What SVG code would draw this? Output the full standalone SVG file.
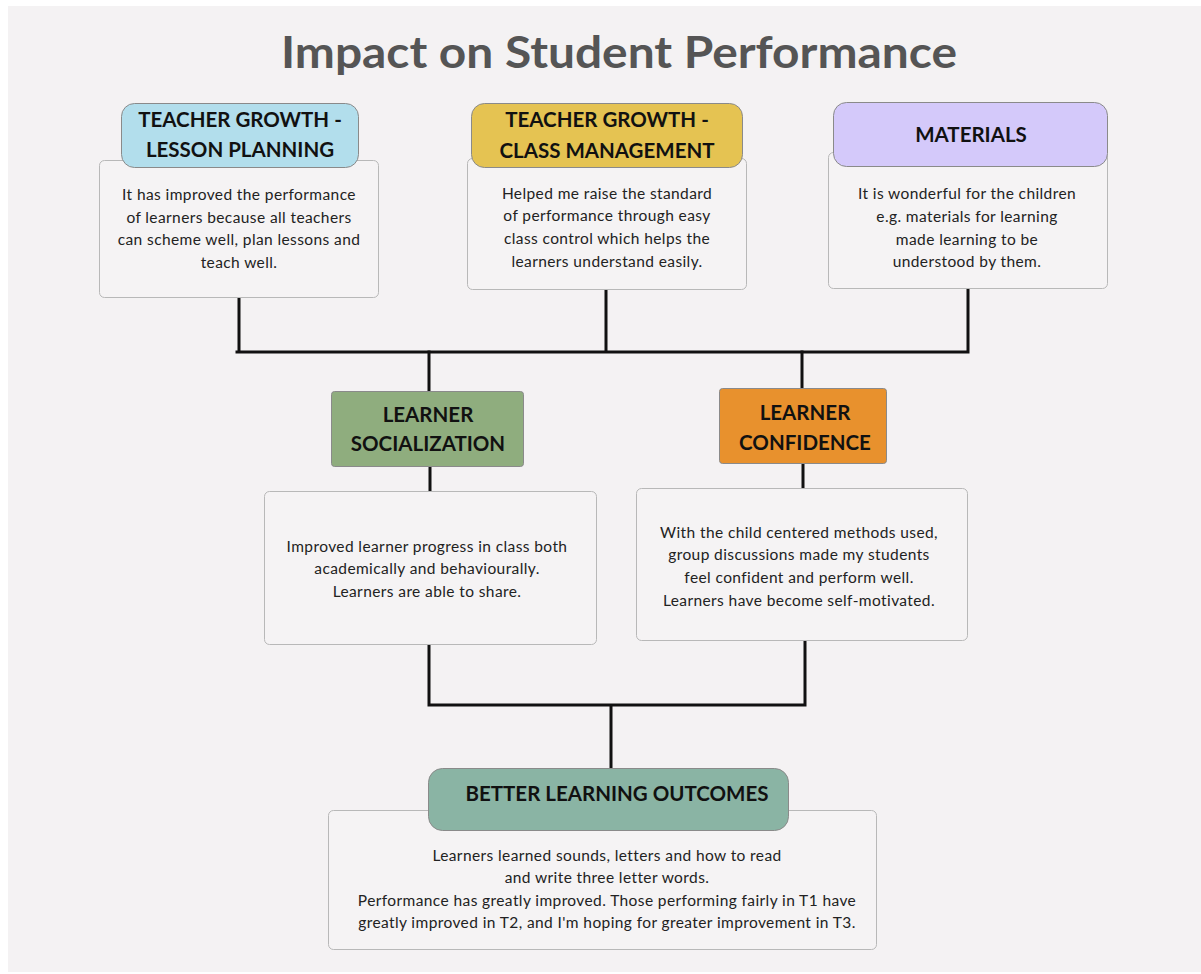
<svg xmlns="http://www.w3.org/2000/svg" width="1201" height="974" viewBox="0 0 1201 974">
<style>
.bg{fill:#f4f2f3}
.body{fill:#f5f3f4;stroke:#b8b8b8;stroke-width:1}
.hdr{stroke:#8a8a8a;stroke-width:1}
.ht{font-family:Lato,"Liberation Sans",sans-serif;font-weight:bold;font-size:20.5px;fill:#111;text-anchor:middle}
.bt{font-family:Lato,"Liberation Sans",sans-serif;font-size:15.5px;letter-spacing:0.4px;fill:#222;text-anchor:middle}
.title{font-family:Lato,"Liberation Sans",sans-serif;font-weight:bold;font-size:44px;fill:#555;text-anchor:middle}
.conn{fill:none;stroke:#111;stroke-width:3;stroke-linecap:square;stroke-linejoin:miter}
</style>
<rect x="0" y="0" width="1201" height="974" fill="#ffffff"/>
<rect class="bg" x="8" y="6" width="1193" height="966"/>
<text class="title" x="619" y="68" textLength="676" lengthAdjust="spacingAndGlyphs">Impact on Student Performance</text>

<g id="connectors">
<path class="conn" d="M239,298 V352 M606,290 V352 M968,289 V352 M237,352 H968"/>
<path class="conn" d="M429,352 V391 M802,352 V388"/>
<path class="conn" d="M430,467 V491 M803,463 V488"/>
<path class="conn" d="M429,645 V705 H805 V641 M611,705 V768"/>
</g>

<g id="node-lesson-planning">
<rect class="body" x="99.5" y="160.5" width="279" height="137" rx="5"/>
<rect class="hdr" x="121.5" y="103.5" width="237" height="64" rx="13" fill="#b2deec"/>
<text class="ht" x="240" y="127">TEACHER GROWTH -</text>
<text class="ht" x="240" y="157">LESSON PLANNING</text>
<text class="bt" x="239" y="200">It has improved the performance</text>
<text class="bt" x="239" y="223">of learners because all teachers</text>
<text class="bt" x="239" y="245">can scheme well, plan lessons and</text>
<text class="bt" x="239" y="268">teach well.</text>
</g>

<g id="node-class-management">
<rect class="body" x="467.5" y="158.5" width="279" height="131" rx="5"/>
<rect class="hdr" x="471.5" y="103.5" width="271" height="64" rx="13" fill="#e5c352"/>
<text class="ht" x="607" y="127">TEACHER GROWTH -</text>
<text class="ht" x="607" y="158">CLASS MANAGEMENT</text>
<text class="bt" x="607" y="199">Helped me raise the standard</text>
<text class="bt" x="607" y="221">of performance through easy</text>
<text class="bt" x="607" y="244">class control which helps the</text>
<text class="bt" x="607" y="267">learners understand easily.</text>
</g>

<g id="node-materials">
<rect class="body" x="828.5" y="152.5" width="279" height="136" rx="5"/>
<rect class="hdr" x="833.5" y="102.5" width="274" height="64" rx="13" fill="#d4c9fa"/>
<text class="ht" x="971" y="142">MATERIALS</text>
<text class="bt" x="967" y="199">It is wonderful for the children</text>
<text class="bt" x="967" y="222">e.g. materials for learning</text>
<text class="bt" x="967" y="245">made learning to be</text>
<text class="bt" x="967" y="267">understood by them.</text>
</g>

<g id="node-learner-socialization">
<rect class="hdr" x="331.5" y="391.5" width="192" height="75" rx="3" fill="#8fad7e"/>
<text class="ht" x="428" y="422">LEARNER</text>
<text class="ht" x="428" y="451">SOCIALIZATION</text>
<rect class="body" x="264.5" y="491.5" width="332" height="153" rx="5"/>
<text class="bt" x="427" y="552">Improved learner progress in class both</text>
<text class="bt" x="427" y="574">academically and behaviourally.</text>
<text class="bt" x="427" y="597">Learners are able to share.</text>
</g>

<g id="node-learner-confidence">
<rect class="hdr" x="719.5" y="388.5" width="167" height="75" rx="3" fill="#e8912d"/>
<text class="ht" x="805" y="420">LEARNER</text>
<text class="ht" x="805" y="450">CONFIDENCE</text>
<rect class="body" x="636.5" y="488.5" width="331" height="152" rx="5"/>
<text class="bt" x="799" y="538">With the child centered methods used,</text>
<text class="bt" x="799" y="560">group discussions made my students</text>
<text class="bt" x="799" y="583">feel confident and perform well.</text>
<text class="bt" x="799" y="606">Learners have become self-motivated.</text>
</g>

<g id="node-better-learning-outcomes">
<rect class="body" x="328.5" y="810.5" width="548" height="139" rx="5"/>
<rect class="hdr" x="428.5" y="768.5" width="360" height="62" rx="14" fill="#8ab4a4"/>
<text class="ht" x="617" y="801">BETTER LEARNING OUTCOMES</text>
<text class="bt" x="607" y="861">Learners learned sounds, letters and how to read</text>
<text class="bt" x="607" y="883">and write three letter words.</text>
<text class="bt" x="607" y="906">Performance has greatly improved. Those performing fairly in T1 have</text>
<text class="bt" x="607" y="928">greatly improved in T2, and I'm hoping for greater improvement in T3.</text>
</g>
</svg>
